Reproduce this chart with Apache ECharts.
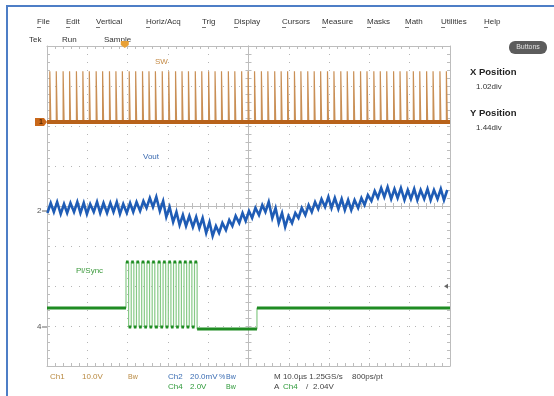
<!DOCTYPE html>
<html><head><meta charset="utf-8">
<script src="https://cdn.jsdelivr.net/npm/echarts@6/dist/echarts.min.js"></script>
<style>html,body{margin:0;padding:0;background:#fff}#c{width:554px;height:396px}</style>
</head><body><div id="c"></div>
<script>
// ---------------- data ----------------
// time axis (µs), 10 µs/div
const timeRange = [0, 100];
const timePerDiv = 10;
// vertical graticule (divisions)
const divRange = [-4, 4];

// Channel settings: volts (or mV) per division and marker position (div)
const ch1Scale = 10, ch1Pos = 2.1;      // SW, V
const ch2Scale = 20, ch2Pos = -0.125;   // Vout ripple, mV
const ch4Scale = 2,  ch4Pos = -3.025;   // Pl/Sync, V

// Ch1: SW node pulse start times (µs)
const swPulseTimes = [0.7, 2.3, 4.0, 5.6, 7.3, 8.9, 10.5, 12.2, 13.8, 15.5, 17.1, 18.7, 20.4, 22.0, 23.7,
  25.3, 26.9, 28.6, 30.2, 31.9, 33.5, 35.1, 36.8, 38.4, 40.1, 41.7, 43.3, 45.0, 46.6, 48.3, 49.9,
  51.5, 53.2, 54.8, 56.5, 58.1, 59.7, 61.4, 63.0, 64.7, 66.3, 67.9, 69.6, 71.2, 72.9, 74.5, 76.1,
  77.8, 79.4, 81.1, 82.7, 84.3, 86.0, 87.6, 89.3, 90.9, 92.5, 94.2, 95.8, 97.5, 99.1];
const swPulseWidth = 0.25;   // µs
const swLowV = 0;
const swHighV = 12.7;

// Ch2: Vout ripple, per switching cycle (mV)
const voutHighMv = [4, 4.5, 3.5, 4, 4.5, 4, 3.5, 4.5, 4, 4, 4.5, 3.5, 4, 4.5, 5, 6.5, 7, 5, 2, -0.5,
  -2, -2.5, -3, -3.5, -5.5, -7.5, -6, -4.5, -2.5, -1, 0, 1.5, 3, 4.5, 1.5, -1, -2.5, -1, 1.5, 3,
  4.5, 6, 7, 6.5, 6, 5.5, 5.5, 6.5, 8, 10, 11.5, 12, 11, 11.5, 10.5, 11, 10.5, 11, 10.5, 11, 10.5];
const voutLowMv = [-1, -0.5, -1.5, -1, -0.5, -1, -1.5, -0.5, -1, -1, -0.5, -1.5, -1, -0.5, 0, 1.5, 2, 0, -3, -5.5,
  -7, -7.5, -8, -8.5, -11, -12.5, -11, -9.5, -7.5, -6, -5, -3.5, -2, -0.5, -3.5, -6, -8, -6, -3.5, -2,
  -0.5, 1, 2, 1.5, 1, 0.5, 0.5, 1.5, 3, 5, 6.5, 7, 6, 6.5, 5.5, 6, 5.5, 6, 5.5, 6, 5.5];
const voutLowOffset = -0.6, voutHighOffset = 0.22;  // µs relative to SW pulse

// Ch4: Pl/Sync
const syncBaseV = 0.95;
const syncBurstRise = [19.6, 20.9, 22.2, 23.5, 24.8, 26.1, 27.5, 28.8, 30.1, 31.4, 32.7, 34.0, 35.3, 36.6];
const syncHighWidth = 0.65;
const syncHighV = 3.25;
const syncLowV = 0;
const syncTailV = -0.1;
const syncRecoverT = 52.1;
const triggerT = 19.3;
const triggerLevelV = 2.04;

// text content
const menuItems = ['File', 'Edit', 'Vertical', 'Horiz/Acq', 'Trig', 'Display', 'Cursors', 'Measure', 'Masks', 'Math', 'Utilities', 'Help'];
const statusItems = ['Tek', 'Run', 'Sample'];

// ---------------- build ----------------
const d1 = v => ch1Pos + v / ch1Scale;
const d2 = v => ch2Pos + v / ch2Scale;
const d4 = v => ch4Pos + v / ch4Scale;

const swLine = [[timeRange[0], d1(swLowV)]];
swPulseTimes.forEach(t => {
  swLine.push([t, d1(swLowV)], [t, d1(swHighV)], [t + swPulseWidth, d1(swHighV)], [t + swPulseWidth, d1(swLowV)]);
});
swLine.push([timeRange[1], d1(swLowV)]);
const swBase = [[timeRange[0], d1(swLowV)], [timeRange[1], d1(swLowV)]];

const voutLine = [];
swPulseTimes.forEach((t, k) => {
  voutLine.push([t + voutLowOffset, d2(voutLowMv[k])], [t + voutHighOffset, d2(voutHighMv[k])]);
});

const syncLine = [[timeRange[0], d4(syncBaseV)]];
const syncFlat = [[timeRange[0], d4(syncBaseV)]];
syncBurstRise.forEach((r, i) => {
  const prevLow = i === 0 ? syncBaseV : syncLowV;
  syncLine.push([r, d4(prevLow)], [r, d4(syncHighV)], [r + syncHighWidth, d4(syncHighV)]);
  syncFlat.push([r, d4(prevLow)], [r, null], [r, d4(syncHighV)], [r + syncHighWidth, d4(syncHighV)], [r + syncHighWidth, null]);
  const nextLow = i === syncBurstRise.length - 1 ? syncTailV : syncLowV;
  syncLine.push([r + syncHighWidth, d4(nextLow)]);
  syncFlat.push([r + syncHighWidth, d4(nextLow)]);
});
syncLine.push([syncRecoverT, d4(syncTailV)], [syncRecoverT, d4(syncBaseV)], [timeRange[1], d4(syncBaseV)]);
syncFlat.push([syncRecoverT, d4(syncTailV)], [syncRecoverT, null], [syncRecoverT, d4(syncBaseV)], [timeRange[1], d4(syncBaseV)]);

const GRID = {left: 47, top: 46, width: 403, height: 320};
const GC = '#bdbdbd';
function xAx(extra) {
  return Object.assign({
    type: 'value', gridIndex: 0, min: timeRange[0], max: timeRange[1], interval: timePerDiv,
    axisLabel: {show: false},
    axisLine: {show: true, onZero: false, lineStyle: {color: GC, width: 1}},
    axisTick: {show: true, inside: true, length: 3, lineStyle: {color: GC}},
    minorTick: {show: true, splitNumber: 5, length: 3, lineStyle: {color: GC}},
    splitLine: {show: false}
  }, extra);
}
function yAx(extra) {
  return Object.assign({
    type: 'value', gridIndex: 0, min: divRange[0], max: divRange[1], interval: 1,
    axisLabel: {show: false},
    axisLine: {show: true, onZero: false, lineStyle: {color: GC, width: 1}},
    axisTick: {show: true, inside: true, length: 3, lineStyle: {color: GC}},
    minorTick: {show: true, splitNumber: 5, length: 3, lineStyle: {color: GC}},
    splitLine: {show: false}
  }, extra);
}
const dotted = {show: true, lineStyle: {color: '#b5b5b5', width: 1, type: [1, 7]}};

const chart = echarts.init(document.getElementById('c'), null, {renderer: 'canvas'});
const option = {
  animation: false,
  backgroundColor: '#ffffff',
  grid: Object.assign({containLabel: false}, GRID),
  xAxis: [
    xAx({position: 'bottom', splitLine: dotted}),
    xAx({position: 'top'}),
    xAx({position: 'bottom', offset: -GRID.height / 2}),
    xAx({position: 'bottom', offset: -GRID.height / 2, axisTick: {show: true, inside: false, length: 3, lineStyle: {color: GC}}})
  ],
  yAxis: [
    yAx({position: 'left', splitLine: dotted}),
    yAx({position: 'right'}),
    yAx({position: 'left', offset: -GRID.width / 2}),
    yAx({position: 'left', offset: -GRID.width / 2, axisTick: {show: true, inside: false, length: 3, lineStyle: {color: GC}}})
  ],
  series: [
    {type: 'line', data: swLine, symbol: 'none', silent: true, lineStyle: {color: '#c98f55', width: 1.2}, z: 3},
    {type: 'line', data: swBase, symbol: 'none', silent: true, lineStyle: {color: '#b8621a', width: 4}, z: 4},
    {type: 'line', data: syncLine, symbol: 'none', silent: true, lineStyle: {color: '#86c986', width: 1.2}, z: 3},
    {type: 'line', data: syncFlat, symbol: 'none', silent: true, connectNulls: false, lineStyle: {color: '#1f8c23', width: 3.2}, z: 4},
    {type: 'line', data: voutLine, symbol: 'none', silent: true, lineStyle: {color: '#1f5cb5', width: 2.6, join: 'miter'}, z: 5}
  ]
};
chart.setOption(option);

// ---------------- annotations ----------------
const FONT = "'Liberation Sans', Arial, sans-serif";
function txt(text, x, y, color, size, weight, align) {
  return {type: 'text', x: x, y: y, silent: true, z: 20,
    style: {text: text, fill: color || '#333', font: (weight || 'normal') + ' ' + (size || 8) + 'px ' + FONT,
      textAlign: align || 'left', textVerticalAlign: 'middle', align: align || 'left', verticalAlign: 'middle'}};
}
const px = (t, d) => chart.convertToPixel({gridIndex: 0}, [t, d]);
const g = [];
// blue frame
g.push({type: 'rect', shape: {x: 6, y: 5, width: 548, height: 2}, style: {fill: '#4d7ec6'}, silent: true});
g.push({type: 'rect', shape: {x: 6, y: 5, width: 2, height: 391}, style: {fill: '#4d7ec6'}, silent: true});
// menu
const menuX = [37, 66, 96, 146, 202, 234, 282, 322, 367, 405, 441, 484];
menuItems.forEach((m, i) => {
  g.push(txt(m, menuX[i], 22, '#333', 8));
  g.push({type: 'rect', shape: {x: menuX[i], y: 27, width: 4, height: 0.8}, style: {fill: '#555'}, silent: true});
});
const statusX = [29, 62, 104];
statusItems.forEach((s, i) => g.push(txt(s, statusX[i], 40, '#333', 8)));
// trigger position marker
const tp = px(triggerT, divRange[1]);
g.push({type: 'polygon', shape: {points: [[tp[0] - 4, tp[1] - 5], [tp[0] + 4, tp[1] - 5], [tp[0] + 4, tp[1] - 1], [tp[0], tp[1] + 2], [tp[0] - 4, tp[1] - 1]]}, style: {fill: '#e8a035'}, silent: true, z: 20});
// Buttons
g.push({type: 'rect', shape: {x: 509, y: 41, width: 38, height: 13, r: 6}, style: {fill: '#5c5c5c'}, silent: true, z: 20});
g.push(txt('Buttons', 528, 47.5, '#e2e2e2', 7, 'normal', 'center'));
g.push(txt('X Position', 470, 72, '#222', 9.5, 'bold'));
g.push(txt('1.02div', 476, 87, '#333', 8));
g.push(txt('Y Position', 470, 113, '#222', 9.5, 'bold'));
g.push(txt('1.44div', 476, 128, '#333', 8));
// trace labels
g.push(txt('SW', 155, 62, '#c48a45', 8));
g.push(txt('Vout', 143, 157, '#3a6ab0', 8));
g.push(txt('Pl/Sync', 76, 271, '#3c9a3c', 8));
// channel markers
const m1 = px(timeRange[0], ch1Pos), m2 = px(timeRange[0], ch2Pos), m4 = px(timeRange[0], ch4Pos);
g.push({type: 'polygon', shape: {points: [[35, m1[1] - 4], [44, m1[1] - 4], [47, m1[1]], [44, m1[1] + 4], [35, m1[1] + 4]]}, style: {fill: '#c9681a'}, silent: true, z: 20});
g.push(txt('1', 39, m1[1], '#5a2a00', 7, 'bold'));
g.push(txt('2', 37, m2[1], '#555', 8));
g.push({type: 'line', shape: {x1: 42, y1: m2[1], x2: 47, y2: m2[1]}, style: {stroke: '#666', lineWidth: 1}, silent: true, z: 20});
g.push(txt('4', 37, m4[1], '#555', 8));
g.push({type: 'line', shape: {x1: 42, y1: m4[1], x2: 47, y2: m4[1]}, style: {stroke: '#666', lineWidth: 1}, silent: true, z: 20});
// trigger level marker (right)
const tl = px(timeRange[1], d4(triggerLevelV));
g.push({type: 'polygon', shape: {points: [[tl[0] - 6, tl[1]], [tl[0] - 2, tl[1] - 2.5], [tl[0] - 2, tl[1] + 2.5]]}, style: {fill: '#666'}, silent: true, z: 20});
// bottom readouts
const c1 = '#b98a42', c2 = '#3b6db3', c4 = '#2f9a3a', cm = '#444';
g.push(txt('Ch1', 50, 377, c1, 8));
g.push(txt('10.0V', 82, 377, c1, 8));
g.push(txt('Bw', 128, 377, c1, 7));
g.push(txt('Ch2', 168, 377, c2, 8));
g.push(txt('20.0mV', 190, 377, c2, 8));
g.push(txt('%', 219, 377, c2, 7));
g.push(txt('Bw', 226, 377, c2, 7));
g.push(txt('Ch4', 168, 387, c4, 8));
g.push(txt('2.0V', 190, 387, c4, 8));
g.push(txt('Bw', 226, 387, c4, 7));
g.push(txt('M 10.0µs 1.25GS/s', 274, 377, cm, 8));
g.push(txt('800ps/pt', 352, 377, cm, 8));
g.push(txt('A', 274, 387, cm, 8));
g.push(txt('Ch4', 283, 387, c4, 8));
g.push(txt('/', 306, 387, cm, 8));
g.push(txt('2.04V', 313, 387, cm, 8));

chart.setOption({graphic: g});
</script></body></html>
